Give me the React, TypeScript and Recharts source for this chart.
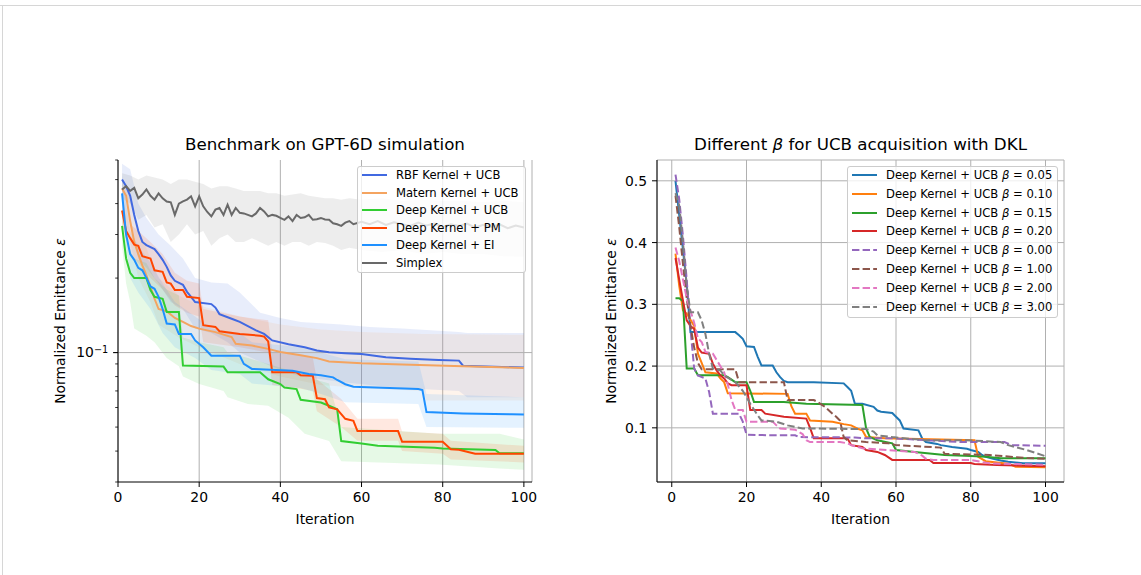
import React from 'react';
import { ComposedChart, Line, Area, XAxis, YAxis, CartesianGrid, ReferenceLine } from 'recharts';

const FONT = '"DejaVu Sans", sans-serif';

// ---- left panel: mean curves [iteration, value] ----
const rbfMean = [[1,0.50],[2,0.47],[3,0.43],[4,0.36],[5,0.31],[6,0.28],[7,0.272],[9,0.262],[10,0.25],[11,0.237],[12,0.222],[13,0.205],[14,0.195],[16,0.188],[17,0.176],[18,0.168],[19,0.16],[23,0.157],[24,0.152],[25,0.143],[28,0.137],[30,0.133],[32,0.128],[34,0.123],[36,0.119],[38,0.112],[42,0.108],[46,0.105],[49,0.102],[52,0.1003],[56,0.0995],[60,0.0988],[66,0.0958],[72,0.0945],[79,0.0934],[84,0.0928],[85,0.0885],[100,0.087]];
const maternMean = [[1,0.46],[2,0.43],[3,0.34],[4,0.28],[5,0.25],[6,0.225],[7,0.205],[8,0.185],[9,0.165],[10,0.15],[12,0.147],[14,0.138],[16,0.133],[18,0.128],[20,0.125],[24,0.121],[28,0.1155],[29,0.1085],[33,0.1068],[37,0.1035],[40,0.1005],[45,0.0975],[49,0.095],[52,0.092],[60,0.0905],[70,0.0895],[85,0.088],[100,0.0867]];
const dkUcbMean = [[1,0.325],[2,0.24],[3,0.21],[4,0.2],[7,0.2],[8,0.179],[9,0.168],[11,0.165],[12,0.146],[15,0.146],[16,0.0886],[26,0.0878],[27,0.0832],[35,0.0832],[37,0.078],[40,0.0746],[41,0.0723],[44,0.0712],[45,0.0645],[50,0.0628],[52,0.061],[54,0.059],[55,0.0439],[60,0.0429],[64,0.042],[78,0.0413],[80,0.041],[93,0.0404],[94,0.0392],[100,0.0392]];
const dkPmMean = [[1,0.375],[2,0.31],[3,0.29],[4,0.273],[5,0.27],[6,0.245],[8,0.24],[9,0.215],[11,0.212],[12,0.192],[13,0.19],[14,0.179],[16,0.179],[17,0.168],[20,0.166],[21,0.129],[24,0.127],[25,0.122],[30,0.119],[35,0.117],[36,0.116],[37,0.111],[38,0.0832],[44,0.0832],[45,0.081],[48,0.0806],[49,0.0655],[51,0.0648],[52,0.06],[54,0.059],[56,0.054],[58,0.053],[59,0.0482],[69,0.0482],[70,0.0436],[80,0.0436],[82,0.0407],[84,0.0405],[88,0.039],[100,0.039]];
const dkEiMean = [[1,0.44],[2,0.3],[3,0.25],[4,0.237],[5,0.22],[6,0.215],[7,0.2],[8,0.185],[9,0.181],[10,0.168],[11,0.15],[12,0.131],[14,0.13],[15,0.119],[18,0.119],[19,0.112],[21,0.105],[23,0.0972],[30,0.0972],[31,0.09],[33,0.0859],[43,0.0845],[47,0.082],[50,0.081],[53,0.0794],[54,0.0775],[56,0.0745],[58,0.0728],[74,0.0713],[75,0.0706],[76,0.0575],[85,0.0568],[97,0.0563],[100,0.0562]];
const simplexMean = [[1,0.456],[2,0.47],[3,0.45],[4,0.463],[5,0.42],[6,0.435],[7,0.456],[8,0.43],[9,0.415],[10,0.44],[11,0.42],[12,0.408],[13,0.405],[14,0.36],[15,0.4],[16,0.408],[17,0.415],[18,0.428],[19,0.39],[20,0.428],[21,0.39],[22,0.37],[23,0.355],[24,0.378],[25,0.384],[26,0.36],[27,0.396],[28,0.36],[29,0.384],[30,0.367],[31,0.365],[32,0.36],[33,0.355],[34,0.365],[35,0.384],[36,0.372],[37,0.355],[38,0.36],[39,0.357],[40,0.35],[41,0.344],[42,0.355],[43,0.34],[44,0.36],[45,0.35],[46,0.352],[47,0.36],[48,0.344],[49,0.346],[50,0.35],[51,0.345],[52,0.344],[53,0.333],[54,0.33],[55,0.325],[56,0.335],[57,0.34],[58,0.33],[60,0.338],[62,0.33],[64,0.34],[66,0.328],[68,0.336],[70,0.33],[72,0.325],[74,0.335],[76,0.326],[78,0.332],[80,0.322],[82,0.33],[84,0.325],[86,0.332],[88,0.32],[90,0.328],[92,0.322],[94,0.33],[96,0.318],[98,0.326],[100,0.32]];

// ---- left panel: spread bands [iteration, low, high] ----
const rbfBand = [[1,0.42,0.58],[3,0.33,0.55],[5,0.24,0.4],[7,0.22,0.35],[10,0.19,0.3],[13,0.16,0.27],[16,0.15,0.24],[19,0.125,0.2],[23,0.12,0.192],[27,0.11,0.19],[30,0.1,0.175],[35,0.092,0.145],[40,0.085,0.138],[45,0.08,0.133],[55,0.076,0.13],[62,0.074,0.127],[70,0.072,0.125],[84,0.07,0.121],[86,0.066,0.12],[100,0.066,0.12]];
const maternBand = [[1,0.4,0.5],[3,0.28,0.42],[5,0.2,0.32],[8,0.16,0.24],[10,0.13,0.2],[15,0.115,0.17],[20,0.105,0.155],[30,0.09,0.14],[40,0.08,0.13],[50,0.074,0.124],[60,0.072,0.121],[75,0.07,0.119],[76,0.064,0.119],[100,0.064,0.118]];
const dkUcbBand = [[1,0.27,0.38],[2,0.19,0.3],[3,0.16,0.26],[4,0.125,0.24],[7,0.117,0.23],[9,0.11,0.2],[12,0.095,0.18],[15,0.088,0.17],[16,0.08,0.115],[20,0.0746,0.11],[26,0.07,0.105],[27,0.066,0.1],[32,0.062,0.095],[37,0.061,0.09],[42,0.0545,0.085],[46,0.047,0.08],[52,0.0439,0.075],[55,0.0364,0.05],[79,0.0353,0.047],[94,0.034,0.047],[100,0.0336,0.0445]];
const dkPmBand = [[1,0.33,0.42],[3,0.25,0.33],[5,0.23,0.31],[8,0.2,0.28],[11,0.18,0.25],[14,0.155,0.21],[17,0.145,0.195],[20,0.14,0.19],[21,0.11,0.15],[30,0.105,0.14],[37,0.1,0.135],[38,0.074,0.1],[44,0.072,0.098],[48,0.07,0.095],[49,0.058,0.078],[55,0.05,0.065],[59,0.044,0.054],[69,0.044,0.054],[70,0.04,0.048],[80,0.039,0.047],[82,0.037,0.044],[100,0.036,0.042]];
const dkEiBand = [[1,0.37,0.52],[3,0.2,0.31],[5,0.175,0.27],[8,0.15,0.23],[11,0.12,0.19],[14,0.105,0.16],[19,0.095,0.14],[23,0.085,0.125],[30,0.082,0.12],[33,0.075,0.11],[45,0.072,0.105],[50,0.068,0.1],[56,0.063,0.094],[74,0.062,0.092],[76,0.05,0.068],[100,0.0497,0.066]];
const simplexBand = [[1,0.42,0.53],[3,0.4,0.52],[5,0.344,0.5],[7,0.36,0.52],[9,0.32,0.51],[11,0.33,0.5],[13,0.28,0.48],[15,0.3,0.5],[17,0.33,0.5],[19,0.3,0.49],[21,0.31,0.48],[23,0.27,0.46],[25,0.29,0.47],[27,0.3,0.47],[29,0.28,0.46],[31,0.28,0.45],[33,0.29,0.45],[35,0.28,0.45],[37,0.27,0.44],[39,0.28,0.44],[41,0.27,0.43],[43,0.28,0.435],[45,0.28,0.44],[47,0.27,0.43],[49,0.28,0.425],[51,0.277,0.42],[53,0.27,0.42],[55,0.26,0.415],[57,0.265,0.42],[60,0.26,0.415],[65,0.255,0.42],[70,0.26,0.41],[75,0.25,0.415],[80,0.255,0.41],[85,0.25,0.41],[90,0.25,0.405],[95,0.245,0.41],[100,0.244,0.405]];

// ---- right panel: beta sweep [iteration, value] ----
const beta005 = [[1,0.5],[2,0.444],[3,0.388],[4,0.332],[5,0.255],[17,0.255],[18,0.25],[19,0.244],[20,0.232],[22,0.231],[23,0.215],[24,0.201],[27,0.201],[28,0.19],[29,0.182],[30,0.176],[31,0.174],[38,0.174],[46,0.172],[47,0.166],[48,0.16],[49,0.139],[51,0.139],[54,0.134],[55,0.128],[56,0.126],[59,0.124],[60,0.118],[61,0.112],[62,0.099],[66,0.096],[67,0.083],[68,0.077],[71,0.074],[72,0.072],[75,0.069],[79,0.066],[80,0.064],[82,0.061],[83,0.056],[84,0.053],[86,0.05],[88,0.047],[90,0.045],[94,0.0425],[100,0.0425]];
const beta010 = [[1,0.382],[2,0.33],[3,0.29],[4,0.285],[5,0.275],[6,0.265],[7,0.22],[8,0.205],[9,0.19],[12,0.188],[13,0.18],[14,0.174],[15,0.156],[31,0.155],[32,0.135],[33,0.123],[36,0.123],[37,0.112],[43,0.11],[46,0.106],[48,0.104],[50,0.098],[51,0.096],[52,0.085],[57,0.083],[81,0.08],[82,0.053],[84,0.046],[90,0.042],[92,0.037],[100,0.036]];
const beta015 = [[1,0.31],[2,0.31],[3,0.305],[4,0.196],[6,0.196],[7,0.185],[14,0.185],[15,0.182],[17,0.174],[20,0.174],[21,0.16],[22,0.142],[30,0.142],[36,0.139],[51,0.137],[52,0.099],[53,0.085],[55,0.08],[59,0.075],[60,0.064],[65,0.061],[69,0.0586],[73,0.0559],[80,0.0543],[84,0.0531],[88,0.0506],[100,0.0506]];
const beta020 = [[1,0.375],[2,0.34],[3,0.306],[4,0.274],[5,0.265],[6,0.26],[7,0.23],[8,0.222],[10,0.22],[11,0.204],[12,0.193],[13,0.185],[14,0.18],[15,0.172],[16,0.169],[20,0.169],[21,0.129],[24,0.129],[25,0.123],[30,0.118],[36,0.115],[37,0.1],[38,0.083],[47,0.083],[48,0.072],[51,0.069],[52,0.064],[55,0.061],[57,0.056],[59,0.048],[69,0.048],[70,0.043],[80,0.043],[81,0.0415],[87,0.04],[100,0.038]];
const beta000 = [[1,0.51],[2,0.47],[3,0.41],[4,0.34],[5,0.26],[6,0.196],[7,0.185],[9,0.18],[10,0.158],[11,0.123],[18,0.123],[19,0.11],[20,0.089],[26,0.088],[33,0.088],[34,0.085],[49,0.0844],[52,0.083],[59,0.083],[68,0.08],[77,0.077],[89,0.077],[91,0.072],[100,0.071]];
const beta100 = [[1,0.476],[2,0.425],[3,0.365],[4,0.31],[5,0.265],[6,0.23],[7,0.205],[8,0.195],[17,0.195],[18,0.174],[30,0.174],[31,0.145],[38,0.145],[39,0.142],[41,0.134],[43,0.123],[44,0.118],[45,0.112],[46,0.085],[47,0.08],[52,0.077],[58,0.075],[60,0.072],[72,0.068],[73,0.058],[85,0.056],[95,0.051],[100,0.05]];
const beta200 = [[1,0.392],[2,0.37],[3,0.34],[4,0.31],[5,0.29],[6,0.27],[7,0.245],[8,0.239],[9,0.223],[11,0.22],[12,0.21],[14,0.19],[15,0.17],[16,0.145],[17,0.129],[19,0.129],[20,0.11],[27,0.11],[28,0.104],[29,0.099],[33,0.097],[35,0.09],[36,0.08],[37,0.077],[45,0.077],[47,0.075],[48,0.072],[51,0.067],[65,0.061],[67,0.055],[68,0.05],[70,0.048],[80,0.048],[85,0.0425],[100,0.04]];
const beta300 = [[1,0.48],[2,0.46],[3,0.4],[4,0.33],[5,0.287],[7,0.287],[8,0.274],[9,0.252],[10,0.22],[11,0.196],[13,0.193],[14,0.185],[17,0.174],[19,0.16],[20,0.15],[21,0.139],[23,0.12],[24,0.112],[28,0.11],[31,0.104],[35,0.099],[52,0.098],[54,0.094],[55,0.088],[59,0.085],[68,0.08],[79,0.08],[88,0.077],[90,0.072],[95,0.064],[100,0.054]];

const leftTicksX = [0, 20, 40, 60, 80, 100];
const leftTicksY = [0.03, 0.04, 0.05, 0.06, 0.07, 0.08, 0.09, 0.1, 0.2, 0.3, 0.4, 0.5, 0.6];
const rightTicksX = [0, 20, 40, 60, 80, 100];
const rightTicksY = [0.1, 0.2, 0.3, 0.4, 0.5];

const leftSeries = [
  { name: 'RBF Kernel + UCB', color: '#4169e1', mean: rbfMean, band: rbfBand },
  { name: 'Matern Kernel + UCB', color: '#f4a460', mean: maternMean, band: maternBand },
  { name: 'Deep Kernel + UCB', color: '#32cd32', mean: dkUcbMean, band: dkUcbBand },
  { name: 'Deep Kernel + PM', color: '#ff4500', mean: dkPmMean, band: dkPmBand },
  { name: 'Deep Kernel + EI', color: '#1e90ff', mean: dkEiMean, band: dkEiBand },
  { name: 'Simplex', color: '#696969', mean: simplexMean, band: simplexBand },
];

const rightSeries = [
  { beta: '0.05', color: '#1f77b4', dashed: false, data: beta005 },
  { beta: '0.10', color: '#ff7f0e', dashed: false, data: beta010 },
  { beta: '0.15', color: '#2ca02c', dashed: false, data: beta015 },
  { beta: '0.20', color: '#d62728', dashed: false, data: beta020 },
  { beta: '0.00', color: '#9467bd', dashed: true, data: beta000 },
  { beta: '1.00', color: '#8c564b', dashed: true, data: beta100 },
  { beta: '2.00', color: '#e377c2', dashed: true, data: beta200 },
  { beta: '3.00', color: '#7f7f7f', dashed: true, data: beta300 },
];

const toPoints = (rows: number[][]) => rows.map(([x, y]) => ({ x, y }));
const toBand = (rows: number[][]) => rows.map(([x, lo, hi]) => ({ x, band: [lo, hi] }));

const tickStyle = { fill: '#000', fontSize: 13.9, fontFamily: FONT };
const DASH = '7.4 3.2';

function LogTick(props: any) {
  const { x, y, payload } = props;
  const ax = x + 10;
  const major = payload.value === 0.1;
  return (
    <g>
      <line x1={ax} x2={ax - (major ? 4.9 : 2.8)} y1={y} y2={y} stroke="#000" strokeWidth={major ? 1.1 : 0.8} />
      {major && (
        <text x={ax - 9.8} y={y} dy="0.35em" textAnchor="end" fontFamily={FONT} fontSize={13.9} fill="#000">
          10<tspan dy="-0.5em" fontSize={9.7}>−1</tspan>
        </text>
      )}
    </g>
  );
}

function LegendBox({ left, top, width, height, rowH, rows }: any) {
  return (
    <div
      style={{
        position: 'absolute', left, top, width, height, boxSizing: 'border-box',
        border: '1px solid #cccccc', borderRadius: 3, background: 'rgba(255,255,255,0.8)',
        fontFamily: FONT, fontSize: 11.6, color: '#000',
      }}
    >
      {rows.map((r: any, i: number) => (
        <div key={i} style={{ position: 'absolute', left: 0, top: 8 + i * rowH - rowH / 2, height: rowH, display: 'flex', alignItems: 'center', whiteSpace: 'nowrap' }}>
          <svg width={38} height={8} style={{ display: 'block' }}>
            <line x1={4} x2={29} y1={4} y2={4} stroke={r.color} strokeWidth={2} strokeDasharray={r.dashed ? DASH : undefined} />
          </svg>
          <span>{r.label}</span>
        </div>
      ))}
    </div>
  );
}

const frameAxes = (
  <>
    <XAxis xAxisId="top" orientation="top" type="number" domain={[0, 1]} tick={false} tickLine={false} axisLine={{ stroke: '#000' }} height={0} />
    <YAxis yAxisId="right" orientation="right" type="number" domain={[0, 1]} tick={false} tickLine={false} axisLine={{ stroke: '#000' }} width={0} />
  </>
);

function LeftPanel() {
  return (
    <ComposedChart width={560} height={575} margin={{ top: 160, right: 28, bottom: 63, left: 58 }}>
      <CartesianGrid horizontal={false} stroke="#b0b0b0" />
      <ReferenceLine y={0.1} stroke="#b0b0b0" />
      <XAxis type="number" dataKey="x" domain={[0, 102]} ticks={leftTicksX} interval={0} allowDataOverflow
        tick={tickStyle} tickSize={5} tickMargin={5} axisLine={{ stroke: '#000' }} tickLine={{ stroke: '#000' }} height={30} />
      <YAxis type="number" scale="log" domain={[0.03, 0.6]} ticks={leftTicksY} interval={0} allowDataOverflow
        tick={<LogTick />} tickLine={false} tickSize={5} tickMargin={5} axisLine={{ stroke: '#000' }} width={60} />
      {frameAxes}
      {leftSeries.map((s) => (
        <Area key={s.name + '-band'} data={toBand(s.band)} dataKey="band" type="linear" stroke="none"
          fill={s.color} fillOpacity={0.12} dot={false} activeDot={false} isAnimationActive={false} />
      ))}
      {leftSeries.map((s) => (
        <Line key={s.name} data={toPoints(s.mean)} dataKey="y" type="linear" stroke={s.color} strokeWidth={2}
          dot={false} activeDot={false} isAnimationActive={false} />
      ))}
    </ComposedChart>
  );
}

function RightPanel() {
  return (
    <ComposedChart width={560} height={575} margin={{ top: 160, right: 56, bottom: 63, left: 37 }}>
      <CartesianGrid stroke="#b0b0b0" />
      <XAxis type="number" dataKey="x" domain={[-3.95, 104.95]} ticks={rightTicksX} interval={0} allowDataOverflow
        tick={tickStyle} tickSize={5} tickMargin={5} axisLine={{ stroke: '#000' }} tickLine={{ stroke: '#000' }} height={30} />
      <YAxis type="number" domain={[0.0123, 0.5337]} ticks={rightTicksY} interval={0} allowDataOverflow
        tickFormatter={(v: number) => v.toFixed(1)}
        tick={tickStyle} tickSize={5} tickMargin={5} axisLine={{ stroke: '#000' }} tickLine={{ stroke: '#000' }} width={60} />
      {frameAxes}
      {rightSeries.map((s) => (
        <Line key={s.beta} data={toPoints(s.data)} dataKey="y" type="linear" stroke={s.color} strokeWidth={2}
          strokeDasharray={s.dashed ? DASH : undefined} dot={false} activeDot={false} isAnimationActive={false} />
      ))}
    </ComposedChart>
  );
}

const textBase: React.CSSProperties = { position: 'absolute', fontFamily: FONT, color: '#000', textAlign: 'center', whiteSpace: 'nowrap' };

export default function App() {
  return (
    <div style={{ position: 'absolute', left: 0, top: 0, width: 1141, height: 575, background: '#fff', overflow: 'hidden' }}>
      <div style={{ position: 'absolute', left: 0, top: 5, width: 1141, borderTop: '1px solid #d6d6d6' }} />
      <div style={{ position: 'absolute', left: 2, top: 5, height: 570, borderLeft: '1px solid #d6d6d6' }} />

      <div style={{ position: 'absolute', left: 0, top: 0 }}><LeftPanel /></div>
      <div style={{ position: 'absolute', left: 560, top: 0 }}><RightPanel /></div>

      <div style={{ ...textBase, left: 118, width: 414, top: 134, fontSize: 16.7, lineHeight: '20px' }}>Benchmark on GPT-6D simulation</div>
      <div style={{ ...textBase, left: 657, width: 407, top: 134, fontSize: 16.7, lineHeight: '20px' }}>
        Different <i>β</i> for UCB acquisition with DKL
      </div>

      <div style={{ ...textBase, left: 118, width: 414, top: 509, fontSize: 13.9, lineHeight: '20px' }}>Iteration</div>
      <div style={{ ...textBase, left: 657, width: 407, top: 509, fontSize: 13.9, lineHeight: '20px' }}>Iteration</div>

      <div style={{ ...textBase, left: 60 - 161, top: 321 - 10, width: 322, fontSize: 13.9, lineHeight: '20px', transform: 'rotate(-90deg)' }}>
        Normalized Emittance <i>ε</i>
      </div>
      <div style={{ ...textBase, left: 611 - 161, top: 321 - 10, width: 322, fontSize: 13.9, lineHeight: '20px', transform: 'rotate(-90deg)' }}>
        Normalized Emittance <i>ε</i>
      </div>

      <LegendBox left={357} top={166} width={169} height={107} rowH={17.6}
        rows={leftSeries.map((s) => ({ label: s.name, color: s.color, dashed: false }))} />
      <LegendBox left={847} top={166} width={211} height={152} rowH={18.8}
        rows={rightSeries.map((s) => ({
          label: <>Deep Kernel + UCB <i>β</i> = {s.beta}</>, color: s.color, dashed: s.dashed,
        }))} />
    </div>
  );
}
